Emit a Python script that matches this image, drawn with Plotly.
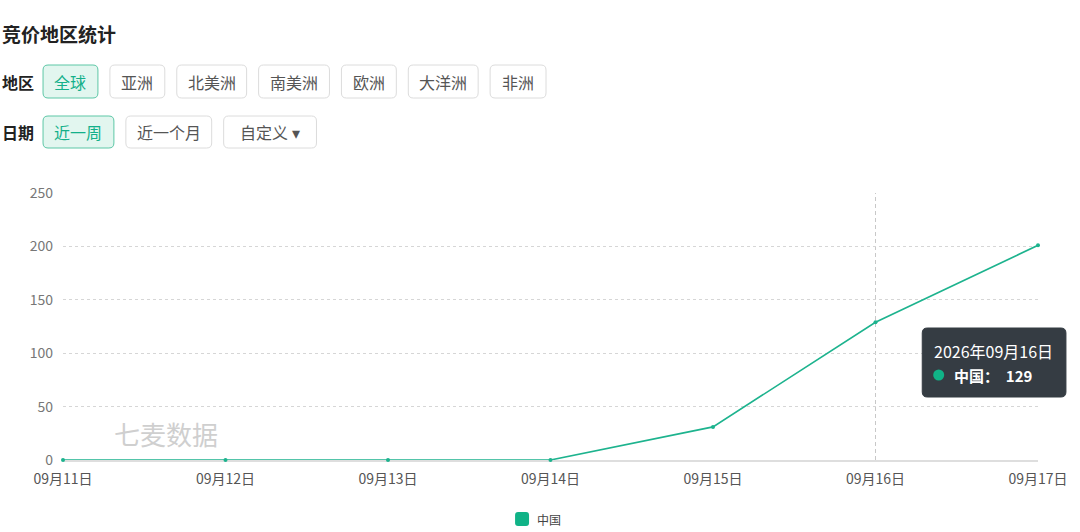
import plotly.graph_objects as go

dates = ["09月11日", "09月12日", "09月13日", "09月14日", "09月15日", "09月16日", "09月17日"]
china = [0, 0, 0, 0, 31, 129, 201]
series_name = "中国"
y_ticks = [0, 50, 100, 150, 200, 250]
region_label = "地区"
regions = ["全球", "亚洲", "北美洲", "南美洲", "欧洲", "大洋洲", "非洲"]
date_label = "日期"
date_opts = ["近一周", "近一个月", "自定义 ▾"]
title_text = "竞价地区统计"
tooltip_date = "2026年09月16日"
hover_idx = 5

W, H = 1080, 532
# plot area in target pixels: x 63..1040, y 193..460
L, R, T, B = 63, 1080 - 1040, 193, 532 - 460
PW = W - L - R
PH = H - T - B
FONT = "Noto Sans CJK SC"
GREEN = "#1db38e"


def px(x):
    return (x - L) / PW


def py(y):
    return (H - B - y) / PH


fig = go.Figure()
fig.add_trace(go.Scatter(
    x=dates, y=china, mode="lines+markers", name=series_name,
    line=dict(color=GREEN, width=1.6), marker=dict(size=4, color=GREEN),
    showlegend=False, hoverinfo="skip", cliponaxis=False))

shapes = []
annotations = []

annotations.append(dict(text="<b>" + title_text + "</b>", x=px(0), y=py(33), xref="paper", yref="paper",
                        xanchor="left", yanchor="middle", showarrow=False,
                        font=dict(size=19, color="#222", family=FONT)))

row1 = [(43, 98), (110, 165), (177, 247), (259, 330), (342, 397), (409, 479), (491, 547)]
row2 = [(43, 114), (126, 212), (224, 317)]


def rounded(a, b, y0, y1, r):
    return (f"M {px(a + r)},{py(y0)} L {px(b - r)},{py(y0)} Q {px(b)},{py(y0)} {px(b)},{py(y0 + r)} "
            f"L {px(b)},{py(y1 - r)} Q {px(b)},{py(y1)} {px(b - r)},{py(y1)} "
            f"L {px(a + r)},{py(y1)} Q {px(a)},{py(y1)} {px(a)},{py(y1 - r)} "
            f"L {px(a)},{py(y0 + r)} Q {px(a)},{py(y0)} {px(a + r)},{py(y0)} Z")


def add_row(label, items, spans, y0, y1):
    yc = (y0 + y1) / 2
    annotations.append(dict(text="<b>" + label + "</b>", x=px(0), y=py(yc), xref="paper", yref="paper",
                            xanchor="left", yanchor="middle", showarrow=False,
                            font=dict(size=16, color="#222", family=FONT)))
    for i, (t, (a, b)) in enumerate(zip(items, spans)):
        active = i == 0
        shapes.append(dict(type="path", path=rounded(a, b, y0, y1, 5), xref="paper", yref="paper",
                           fillcolor="#e2f6ef" if active else "#ffffff",
                           line=dict(color="#5cc7a6" if active else "#dcdcdc", width=1)))
        annotations.append(dict(text=t, x=px((a + b) / 2), y=py(yc), xref="paper", yref="paper",
                                xanchor="center", yanchor="middle", showarrow=False,
                                font=dict(size=16, color="#13b08a" if active else "#555", family=FONT)))


add_row(region_label, regions, row1, 65, 98)
add_row(date_label, date_opts, row2, 116, 148)

shapes.append(dict(type="line", xref="x", yref="paper", x0=dates[hover_idx], x1=dates[hover_idx],
                   y0=0, y1=1, line=dict(color="#c8c8c8", width=1, dash="4px,3px"), layer="below"))

annotations.append(dict(text="七麦数据", x=px(112), y=py(433), xref="paper", yref="paper",
                        xanchor="left", yanchor="middle", showarrow=False,
                        font=dict(size=26, color="#cfcfcf", family=FONT)))

shapes.append(dict(type="path", path=rounded(924, 1068, 328, 397, 5), xref="paper", yref="paper",
                   fillcolor="#353c43", line=dict(color="#353c43", width=1)))
annotations.append(dict(text=tooltip_date, x=px(934), y=py(351), xref="paper", yref="paper",
                        xanchor="left", yanchor="middle", showarrow=False,
                        font=dict(size=16, color="#ffffff", family=FONT)))
shapes.append(dict(type="circle", xref="paper", yref="paper", x0=px(935), x1=px(946),
                   y0=py(369.5), y1=py(380.5), fillcolor="#10b387", line=dict(width=0)))
annotations.append(dict(text=f"<b>{series_name}：  {china[hover_idx]}</b>", x=px(954), y=py(375),
                        xref="paper", yref="paper", xanchor="left", yanchor="middle", showarrow=False,
                        font=dict(size=15, color="#ffffff", family=FONT)))

shapes.append(dict(type="path", path=rounded(516, 530, 512, 526, 3), xref="paper", yref="paper",
                   fillcolor="#10b387", line=dict(width=0)))
annotations.append(dict(text=series_name, x=px(536), y=py(519), xref="paper", yref="paper",
                        xanchor="left", yanchor="middle", showarrow=False,
                        font=dict(size=12, color="#444", family=FONT)))

fig.update_layout(
    width=W, height=H, margin=dict(l=L, r=R, t=T, b=B, pad=0),
    paper_bgcolor="#ffffff", plot_bgcolor="#ffffff",
    font=dict(family=FONT, color="#666"),
    shapes=shapes, annotations=annotations, showlegend=False,
    xaxis=dict(type="category", range=[0, len(dates) - 1], showgrid=False, zeroline=False,
               showline=True, linecolor="#dedede", linewidth=1.5, ticks="", layer="below traces",
               tickfont=dict(size=14, color="#555", family=FONT), ticklabelstandoff=5),
    yaxis=dict(range=[0, 250], tickvals=y_ticks, showgrid=True, gridcolor="#d6d6d6",
               griddash="dot", gridwidth=1, zeroline=False, showline=False, ticks="",
               tickfont=dict(size=14, color="#777", family=FONT), ticklabelstandoff=9),
)

fig.write_html("out.html", config={"displayModeBar": False},
               post_script="document.body.style.margin='0';document.body.style.overflow='hidden';")
